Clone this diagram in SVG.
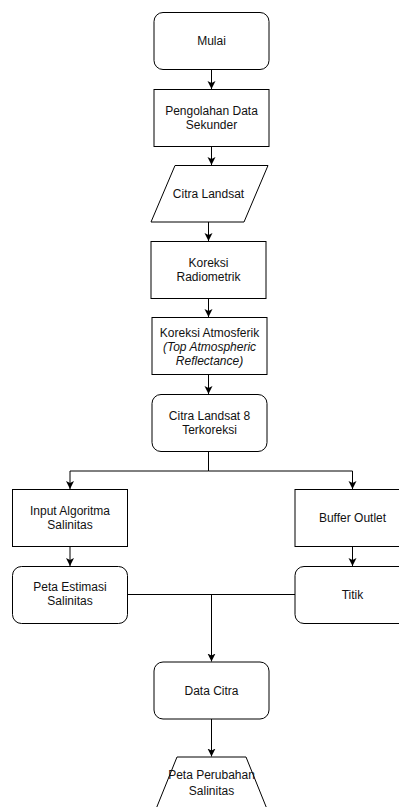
<svg xmlns="http://www.w3.org/2000/svg" width="399" height="807" viewBox="0 0 399 807">
<defs>
<marker id="arr" markerUnits="userSpaceOnUse" markerWidth="8" markerHeight="9" viewBox="0 0 8 9" refX="8" refY="4.5" orient="auto">
<path d="M0,0.5 L8,4.5 L0,8.5 L2,4.5 Z" fill="#000"/>
</marker>
<style>
.n{fill:#fff;stroke:#000;stroke-width:1}
.t{font-family:"Liberation Sans",Arial,sans-serif;font-size:12px;fill:#111;text-anchor:middle}
.i{font-style:italic}
.c{fill:none;stroke:#000;stroke-width:1}
.a{marker-end:url(#arr)}
</style>
</defs>
<rect width="399" height="807" fill="#fff"/>
<g id="mulai"><rect class="n" x="154" y="12.5" width="115" height="57" rx="9"/><text class="t" x="211.5" y="45">Mulai</text></g>
<g id="pengolahan"><rect class="n" x="154" y="89.5" width="115" height="57"/><text class="t" x="211.5" y="115">Pengolahan Data</text><text class="t" x="211.5" y="129">Sekunder</text></g>
<g id="citra-landsat"><polygon class="n" points="175,165.5 268,165.5 244,222 151,222"/><text class="t" x="208.5" y="197.5">Citra Landsat</text></g>
<g id="koreksi-radiometrik"><rect class="n" x="151" y="241.5" width="115" height="57"/><text class="t" x="208.5" y="267">Koreksi</text><text class="t" x="208.5" y="281">Radiometrik</text></g>
<g id="koreksi-atmosferik"><rect class="n" x="152" y="317.5" width="115" height="57"/><text class="t" x="209.5" y="336.5">Koreksi Atmosferik</text><text class="t i" x="209.5" y="350.5">(Top Atmospheric</text><text class="t i" x="209.5" y="364.5">Reflectance)</text></g>
<g id="terkoreksi"><rect class="n" x="152" y="394.5" width="115" height="57" rx="9"/><text class="t" x="209.5" y="419.5">Citra Landsat 8</text><text class="t" x="209.5" y="433.5">Terkoreksi</text></g>
<g id="input-algoritma"><rect class="n" x="12.5" y="489.5" width="115" height="57"/><text class="t" x="70" y="515">Input Algoritma</text><text class="t" x="70" y="529">Salinitas</text></g>
<g id="peta-estimasi"><rect class="n" x="12.5" y="566.5" width="115" height="57" rx="9"/><text class="t" x="70" y="591">Peta Estimasi</text><text class="t" x="70" y="605">Salinitas</text></g>
<g id="buffer-outlet"><rect class="n" x="295" y="489.5" width="115" height="57"/><text class="t" x="352.5" y="522">Buffer Outlet</text></g>
<g id="titik"><rect class="n" x="295" y="566.5" width="115" height="57" rx="9"/><text class="t" x="352.5" y="598.5">Titik</text></g>
<g id="data-citra"><rect class="n" x="154" y="662" width="115" height="57" rx="9"/><text class="t" x="211.5" y="694.5">Data Citra</text></g>
<g id="peta-perubahan"><polygon class="n" points="177,757 246,757 269,814 154,814"/><text class="t" x="211.5" y="779">Peta Perubahan</text><text class="t" x="211.5" y="795">Salinitas</text></g>
<g id="connectors">
<line class="c a" x1="211.5" y1="69.5" x2="211.5" y2="89"/>
<line class="c a" x1="211.5" y1="146.5" x2="211.5" y2="165"/>
<line class="c a" x1="208.5" y1="222" x2="208.5" y2="241"/>
<line class="c a" x1="208.5" y1="298.5" x2="208.5" y2="317"/>
<line class="c a" x1="208.5" y1="374.5" x2="208.5" y2="394"/>
<polyline class="c a" points="208.5,451.5 208.5,471 70,471 70,489"/>
<polyline class="c a" points="208.5,471 352.5,471 352.5,489"/>
<line class="c a" x1="70" y1="546.5" x2="70" y2="566"/>
<line class="c a" x1="352.5" y1="546.5" x2="352.5" y2="566"/>
<line class="c" x1="127.5" y1="594.5" x2="295" y2="594.5"/>
<line class="c a" x1="211.5" y1="594.5" x2="211.5" y2="661.5"/>
<line class="c a" x1="211.5" y1="719" x2="211.5" y2="756.5"/>
</g>
</svg>
